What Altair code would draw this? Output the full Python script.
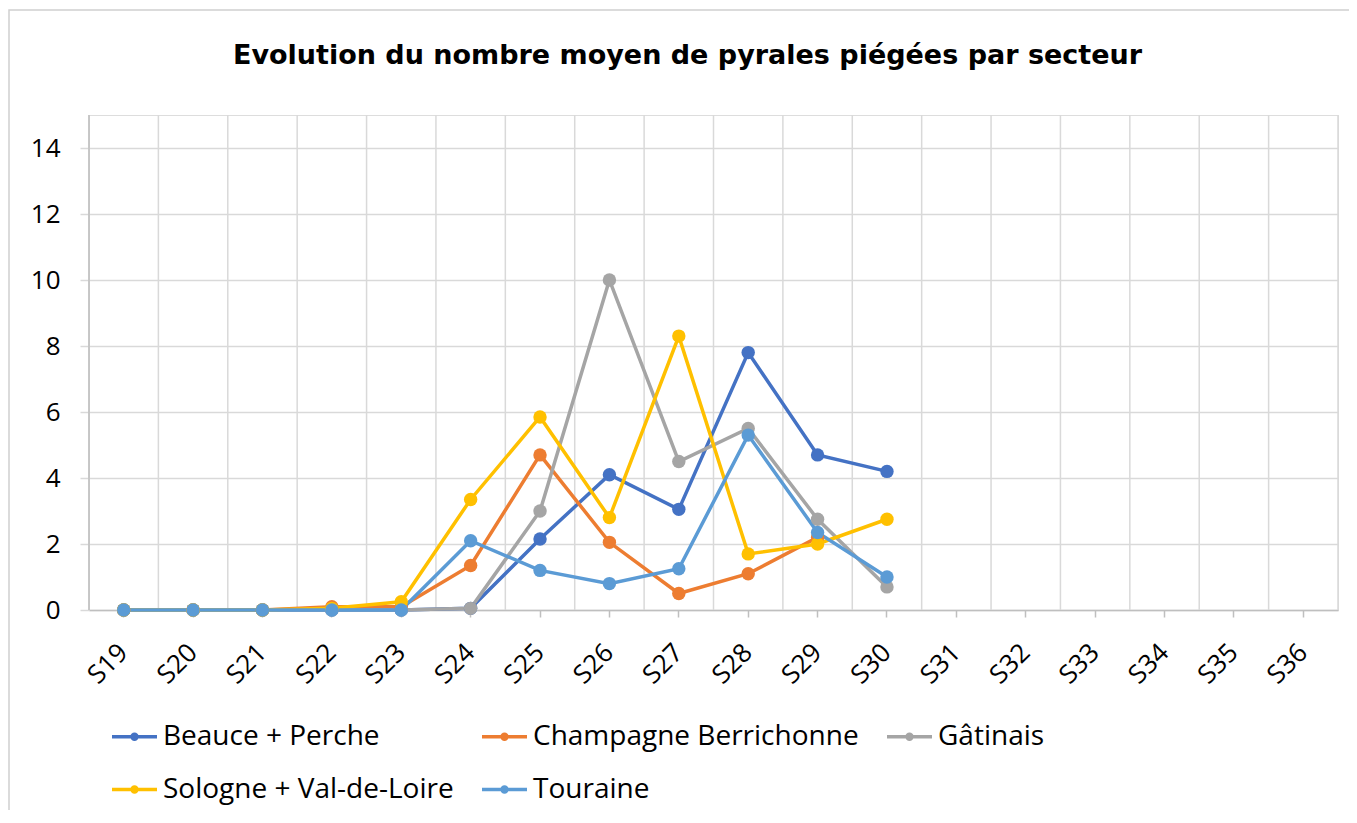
import altair as alt
import pandas as pd

weeks = ["S19", "S20", "S21", "S22", "S23", "S24", "S25", "S26", "S27",
         "S28", "S29", "S30", "S31", "S32", "S33", "S34", "S35", "S36"]

series_names = ["Beauce + Perche", "Champagne Berrichonne", "Gâtinais",
                "Sologne + Val-de-Loire", "Touraine"]
series_colors = ["#4472C4", "#ED7D31", "#A5A5A5", "#FFC000", "#5B9BD5"]

beauce = [0, 0, 0, 0, 0, 0.05, 2.15, 4.1, 3.05, 7.8, 4.7, 4.2]
champagne = [0, 0, 0, 0.1, 0.1, 1.35, 4.7, 2.05, 0.5, 1.1, 2.2]
gatinais = [0, 0, 0, 0, 0, 0.05, 3.0, 10.0, 4.5, 5.5, 2.75, 0.7]
sologne = [0, 0, 0, 0.05, 0.25, 3.35, 5.85, 2.8, 8.3, 1.7, 2.0, 2.75]
touraine = [0, 0, 0, 0, 0, 2.1, 1.2, 0.8, 1.25, 5.3, 2.35, 1.0]

y_ticks = [0, 2, 4, 6, 8, 10, 12, 14]

FONT = "Open Sans"
TITLE_FONT = "DejaVu Sans"

rows = []
for name, vals in zip(series_names, [beauce, champagne, gatinais, sologne, touraine]):
    for w, v in zip(weeks, vals):
        rows.append({"semaine": w, "secteur": name, "valeur": v})
df = pd.DataFrame(rows)

xscale = alt.Scale(type="band", domain=weeks, paddingInner=0, paddingOuter=0)
yscale = alt.Scale(domain=[0, 15], nice=False)

x_axis = alt.Axis(
    labelAngle=-45, labelAlign="right", labelBaseline="middle",
    labelFontSize=26, labelFont=FONT, labelColor="#000000",
    labelPadding=31, tickColor="#BFBFBF", tickSize=7, tickWidth=1.5,
    domainColor="#BFBFBF", domainWidth=1.5, grid=False, title=None,
)
y_axis = alt.Axis(
    values=y_ticks, grid=True, gridColor="#D9D9D9", gridWidth=1.5,
    domain=False, tickColor="#D9D9D9", tickSize=9, tickWidth=1.5,
    labelFontSize=26, labelFont=FONT, labelColor="#000000",
    labelPadding=20, title=None,
)

legend_path = ("M-1,0 L-0.12,0 M0.12,0 L1,0 "
               "M-0.11,0 A0.11,0.11 0 1,0 0.11,0 A0.11,0.11 0 1,0 -0.11,0")

color_scale = alt.Scale(domain=series_names, range=series_colors)
color = alt.Color(
    "secteur:N",
    scale=color_scale,
    sort=series_names,
    legend=alt.Legend(
        title=None, orient="none", legendX=21, legendY=597, columns=3,
        direction="horizontal",
        symbolType=legend_path, symbolSize=2025, symbolStrokeWidth=3.5,
        labelFontSize=28, labelFont=FONT, labelColor="#000000",
        labelOffset=4, columnPadding=21, rowPadding=14, labelLimit=600,
    ),
)

grid_df = pd.DataFrame({"semaine": weeks})

grid = alt.Chart(grid_df).mark_rule(color="#D9D9D9", strokeWidth=1.5).encode(
    x=alt.X("semaine:N", scale=xscale, bandPosition=0, axis=x_axis)
)
grid_end = alt.Chart(pd.DataFrame({"semaine": [weeks[-1]]})).mark_rule(
    color="#D9D9D9", strokeWidth=1.5).encode(
    x=alt.X("semaine:N", scale=xscale, bandPosition=1, axis=x_axis)
)
grid_first = alt.Chart(pd.DataFrame({"semaine": [weeks[0]]})).mark_rule(
    color="#BFBFBF", strokeWidth=1.5).encode(
    x=alt.X("semaine:N", scale=xscale, bandPosition=0, axis=x_axis)
)

lines = alt.Chart(df).mark_line(strokeWidth=3.5).encode(
    x=alt.X("semaine:N", scale=xscale, bandPosition=0.5, axis=x_axis),
    y=alt.Y("valeur:Q", scale=yscale, axis=y_axis),
    color=color,
)
points = alt.Chart(df).mark_point(filled=True, size=180, opacity=1).encode(
    x=alt.X("semaine:N", scale=xscale, bandPosition=0.5, axis=x_axis),
    y=alt.Y("valeur:Q", scale=yscale, axis=y_axis),
    color=alt.Color("secteur:N", scale=color_scale),
)

border = alt.Chart(pd.DataFrame({"a": [0]})).mark_rect(
    fillOpacity=0, stroke="#D0D0D0", strokeWidth=1.5).encode(
    x=alt.value(-80), x2=alt.value(1261), y=alt.value(-105), y2=alt.value(700)
)

chart = alt.layer(border, grid, grid_end, grid_first, lines, points).properties(
    width=1249, height=495,
    title=alt.Title(
        "Evolution du nombre moyen de pyrales piégées par secteur",
        fontSize=27, fontWeight="bold", font=TITLE_FONT, color="#000000",
        anchor="middle", frame="group", dx=-26, offset=-61,
    ),
    autosize=alt.AutoSizeParams(type="none"),
    padding={"left": 81, "top": 107, "right": 11, "bottom": 200},
).configure_view(stroke=None).configure(background="white")

chart.save("out.html", embed_options={"renderer": "svg", "actions": False})
